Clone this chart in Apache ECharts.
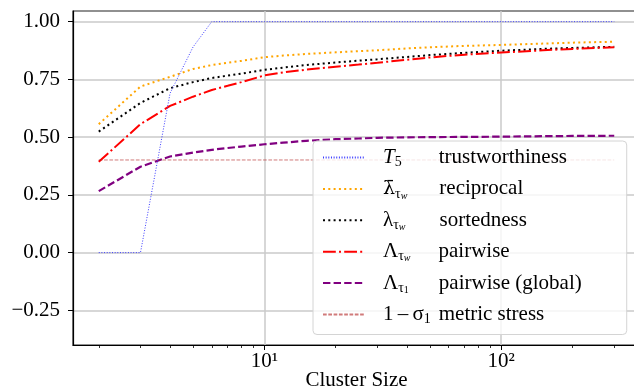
<!DOCTYPE html>
<html>
<head>
<meta charset="utf-8">
<script src="https://cdn.jsdelivr.net/npm/echarts@6/dist/echarts.min.js"></script>
<style>html,body{margin:0;padding:0;background:#fff;}#c{width:634px;height:389px;}</style>
</head>
<body>
<div id="c"></div>
<script>
// ---- data ----
const clusterSizes = [2, 3, 4, 5, 6, 7, 8, 10, 12, 15, 20, 25, 30, 40, 50, 70, 100, 150, 200, 300];
const trustworthiness = [0, 0, 0.69, 0.89, 1, 1, 1, 1, 1, 1, 1, 1, 1, 1, 1, 1, 1, 1, 1, 1];
const reciprocal = [0.556, 0.719, 0.761, 0.795, 0.812, 0.822, 0.830, 0.846, 0.853, 0.860, 0.867, 0.872, 0.876, 0.884, 0.889, 0.895, 0.899, 0.905, 0.909, 0.913];
const sortedness = [0.524, 0.648, 0.712, 0.738, 0.756, 0.766, 0.775, 0.791, 0.801, 0.812, 0.823, 0.831, 0.837, 0.847, 0.855, 0.865, 0.874, 0.882, 0.886, 0.891];
const pairwise = [0.393, 0.556, 0.635, 0.675, 0.704, 0.722, 0.738, 0.767, 0.780, 0.792, 0.805, 0.814, 0.822, 0.835, 0.845, 0.857, 0.866, 0.876, 0.882, 0.889];
const pairwiseGlobal = [0.266, 0.372, 0.416, 0.433, 0.445, 0.453, 0.459, 0.469, 0.476, 0.484, 0.491, 0.494, 0.497, 0.499, 0.500, 0.501, 0.502, 0.504, 0.505, 0.506];
const metricStress = [0.401, 0.401, 0.401, 0.401, 0.401, 0.401, 0.401, 0.401, 0.401, 0.401, 0.401, 0.401, 0.401, 0.401, 0.401, 0.401, 0.401, 0.401, 0.401, 0.401];
const yTicks = [-0.25, 0, 0.25, 0.5, 0.75, 1.0];
const xMajorTicks = [10, 100];
const xMinorTicks = [2, 3, 4, 5, 6, 7, 8, 9, 20, 30, 40, 50, 60, 70, 80, 90, 200, 300];
const seriesNames = ['trustworthiness', 'reciprocal', 'sortedness', 'pairwise', 'pairwise (global)', 'metric stress'];
const seriesValues = [trustworthiness, reciprocal, sortedness, pairwise, pairwiseGlobal, metricStress];

// ---- styles ----
const FONT = 'Liberation Serif';
const styles = [
  { color: '#3b3bff', width: 1, type: [1, 1.65] },
  { color: '#ffa500', width: 2, type: [2, 3.3] },
  { color: '#000000', width: 2, type: [2, 3.3] },
  { color: '#ff0000', width: 2, type: [12.8, 3.2, 2, 3.2] },
  { color: '#800080', width: 2.2, type: [7.4, 3.2] },
  { color: 'rgba(178,34,34,0.6)', width: 1, type: [3.7, 1.6] }
];

// legend labels (symbol parts)
const legendParts = [
  [['it', 'T'], ['s', '5']],
  [['mb', '\u03BB\u0304'], ['s', '\u03C4'], ['ss', 'w']],
  [['m', '\u03BB'], ['s', '\u03C4'], ['ss', 'w']],
  [['m', '\u039B'], ['s', '\u03C4'], ['ss', 'w']],
  [['m', '\u039B'], ['s', '\u03C4'], ['ssn', '1']],
  [['m', '1\u2009\u2013\u2009\u03C3'], ['s', '1']]
];
const fragFont = {
  it: 'italic 21px "' + FONT + '"',
  m: '21px "' + FONT + '"',
  mb: '19px "DejaVu Serif"',
  s: '14px "' + FONT + '"',
  ss: 'italic 10px "' + FONT + '"',
  ssn: '10px "' + FONT + '"'
};
const SYMCOL = 56;

const rich = {
  pad: { width: 14, fontSize: 21, lineHeight: 24 },
  it: { fontFamily: FONT, fontSize: 21, fontStyle: 'italic', lineHeight: 24 },
  m: { fontFamily: FONT, fontSize: 21, lineHeight: 24 },
  mb: { fontFamily: 'DejaVu Serif', fontSize: 19, lineHeight: 24 },
  s: { fontFamily: FONT, fontSize: 14, lineHeight: 14, verticalAlign: 'bottom' },
  ss: { fontFamily: FONT, fontSize: 10, fontStyle: 'italic', lineHeight: 10, verticalAlign: 'bottom' },
  ssn: { fontFamily: FONT, fontSize: 10, lineHeight: 10, verticalAlign: 'bottom' },
  d: { fontFamily: FONT, fontSize: 21, lineHeight: 24, color: '#000' }
};
const mctx = document.createElement('canvas').getContext('2d');
legendParts.forEach((parts, i) => {
  let w = 0;
  parts.forEach(p => {
    mctx.font = fragFont[p[0]];
    w += mctx.measureText(p[1]).width;
  });
  rich['g' + i] = { width: Math.max(2, Math.round(SYMCOL - w)), fontSize: 21, lineHeight: 24 };
});

function legendLabel(name) {
  const i = seriesNames.indexOf(name);
  let s = '{pad| }';
  legendParts[i].forEach(p => { s += '{' + p[0] + '|' + p[1] + '}'; });
  s += '{g' + i + '| }{d|' + name + '}';
  return s;
}

const chart = echarts.init(document.getElementById('c'), null, { renderer: 'canvas' });

const series = seriesNames.map((name, i) => ({
  name: name,
  type: 'line',
  xAxisIndex: 0,
  yAxisIndex: 0,
  showSymbol: false,
  symbol: 'none',
  smooth: false,
  animation: false,
  lineStyle: styles[i],
  itemStyle: { color: styles[i].color },
  emphasis: { disabled: true },
  data: clusterSizes.map((x, k) => [x, seriesValues[i][k]]),
  z: i === 0 ? 8 : 3
}));

const xMin = 1.557, xMax = 385.3;

chart.setOption({
  animation: false,
  backgroundColor: '#ffffff',
  textStyle: { fontFamily: FONT },
  grid: { left: 73, top: 11, right: -6, bottom: 44, containLabel: false, outerBoundsMode: 'none',
          show: true, borderColor: '#222', borderWidth: 1.2, backgroundColor: 'transparent' },
  xAxis: [
    {
      type: 'log', logBase: 10, min: xMin, max: xMax, position: 'bottom',
      name: 'Cluster Size', nameLocation: 'middle', nameGap: 25, nameMoveOverlap: false,
      nameTextStyle: { fontFamily: FONT, fontSize: 21, color: '#000', verticalAlign: 'top' },
      axisLine: { show: true, onZero: false, lineStyle: { color: '#000', width: 1.2 } },
      axisTick: { show: true, inside: false, length: 5, customValues: xMajorTicks, lineStyle: { color: '#000', width: 1 } },
      axisLabel: {
        show: true, customValues: xMajorTicks, margin: 6, color: '#000', fontFamily: FONT, fontSize: 21,
        formatter: v => '10' + (Math.round(Math.log10(v)) === 1 ? '\u00B9' : '\u00B2')
      },
      splitLine: { show: true, lineStyle: { color: '#cacaca', width: 1.5 } }
    },
    {
      type: 'log', logBase: 10, min: xMin, max: xMax, position: 'bottom',
      axisLine: { show: false, onZero: false },
      axisTick: { show: true, inside: false, length: 3, customValues: xMinorTicks, lineStyle: { color: '#000', width: 0.8 } },
      axisLabel: { show: false },
      splitLine: { show: false }
    }
  ],
  yAxis: {
    type: 'value', min: -0.4, max: 1.046,
    axisLine: { show: true, onZero: false, lineStyle: { color: '#000', width: 1.2 } },
    axisTick: { show: true, length: 5, customValues: yTicks, lineStyle: { color: '#000', width: 1 } },
    axisLabel: {
      customValues: yTicks, margin: 13, color: '#000', fontFamily: FONT, fontSize: 21,
      formatter: v => (v < 0 ? '\u2212' : '') + Math.abs(v).toFixed(2)
    },
    splitLine: { show: true, lineStyle: { color: '#cacaca', width: 1.5 } }
  },
  legend: {
    show: true, orient: 'vertical', left: 313, top: 141,
    itemWidth: 41, itemHeight: 14, itemGap: 8.9,
    padding: [6, 45, 8, 9],
    backgroundColor: 'rgba(255,255,255,0.8)',
    borderColor: '#d4d4d4', borderWidth: 1, borderRadius: 4,
    selectedMode: false,
    itemStyle: { opacity: 0, borderWidth: 0 },
    data: seriesNames,
    formatter: legendLabel,
    textStyle: { fontFamily: FONT, fontSize: 21, color: '#000', rich: rich }
  },
  series: series
});
</script>
</body>
</html>
